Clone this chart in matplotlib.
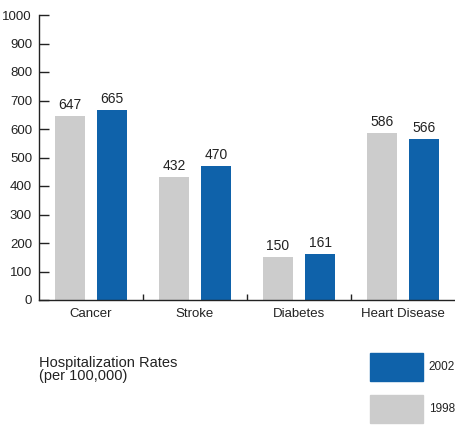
import numpy as np
import matplotlib.pyplot as plt
from matplotlib.patches import Rectangle

plt.rcParams['font.family'] = ['Liberation Sans Narrow', 'Liberation Sans', 'DejaVu Sans']

# Hospitalization rates per 100,000
categories = ['Cancer', 'Stroke', 'Diabetes', 'Heart Disease']
rates_1998 = [647, 432, 150, 586]
rates_2002 = [665, 470, 161, 566]
yticks = [0, 100, 200, 300, 400, 500, 600, 700, 800, 900, 1000]

gray = '#cccccc'
blue = '#0f62aa'
axis_col = '#222222'

fig = plt.figure(figsize=(4.56, 4.25), dpi=100)
ax = fig.add_axes([39 / 456, 125 / 425, 416 / 456, 285 / 425])

x = np.arange(len(categories))
w = 0.288
off = 0.202
b1 = ax.bar(x - off, rates_1998, w, color=gray)
b2 = ax.bar(x + off, rates_2002, w, color=blue)

for bars, vals in ((b1, rates_1998), (b2, rates_2002)):
    for b, v in zip(bars, vals):
        ax.text(b.get_x() + b.get_width() / 2, v + 14, str(v),
                ha='center', va='bottom', fontsize=10, color=axis_col)

ax.set_xlim(-0.5, 3.5)
ax.set_ylim(0, 1000)
ax.set_yticks(yticks)
ax.set_xticks(x)
ax.set_xticklabels(categories, fontsize=9.5, color=axis_col)
ax.set_xticks([0.5, 1.5, 2.5], minor=True)

for s in ('top', 'right'):
    ax.spines[s].set_visible(False)
for s in ('left', 'bottom'):
    ax.spines[s].set_color(axis_col)
    ax.spines[s].set_linewidth(1.0)

ax.tick_params(axis='y', direction='in', length=7.5, width=1, color=axis_col,
               labelsize=9.5, labelcolor=axis_col, pad=5)
ax.tick_params(axis='x', which='major', length=0, pad=6)
ax.tick_params(axis='x', which='minor', direction='in', length=4, width=1, color=axis_col)

# title and legend below the chart
fig.text(39 / 456, 1 - 356 / 425, 'Hospitalization Rates\n(per 100,000)',
         ha='left', va='top', fontsize=10.5, color=axis_col, linespacing=0.95)

for y0, col, lab in ((353, blue, '2002'), (395, gray, '1998')):
    fig.add_artist(Rectangle((370 / 456, 1 - (y0 + 28) / 425), 53 / 456, 28 / 425,
                             transform=fig.transFigure, color=col))
    fig.text(455 / 456, 1 - (y0 + 14) / 425, lab, ha='right', va='center',
             fontsize=8.5, color=axis_col)

fig.savefig('out.png', dpi=100)
